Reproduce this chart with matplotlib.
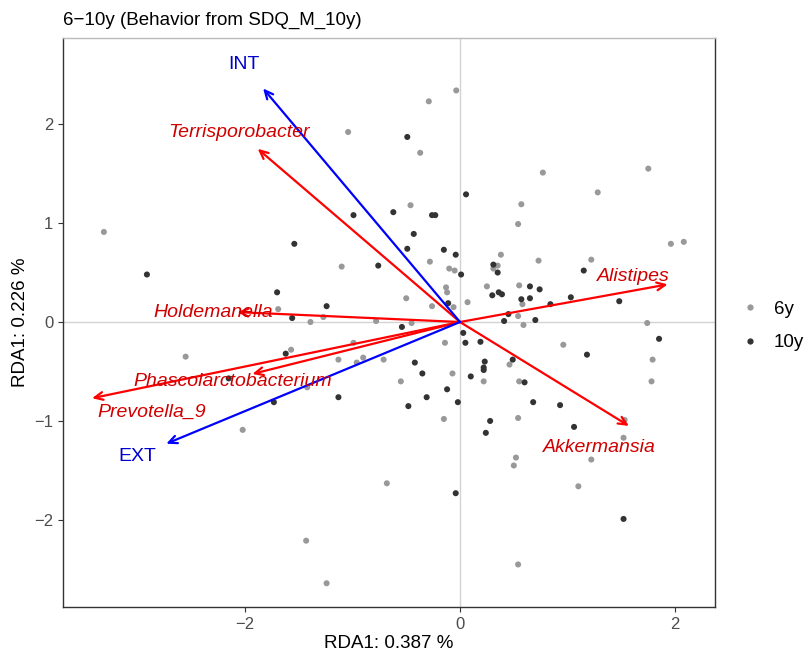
import matplotlib
matplotlib.use("Agg")
import matplotlib.pyplot as plt
from matplotlib.lines import Line2D

plt.rcParams['font.family'] = ['Liberation Sans', 'DejaVu Sans']

# ---- data ----
g6_x = [-0.035, -0.29, -1.04, -0.37, 1.75, 0.77, 1.28, -0.46, 0.57, 0.54, -3.31, 1.96, 2.08, 0.38,
        -1.10, -0.28, -0.10, -0.05, 0.35, 0.31, 0.73, 1.22, -1.69, -1.39, -1.27, -0.78, -0.50, -0.13,
        -0.12, -0.06, -0.26, 0.07, 0.25, 0.55, 0.58, 0.54, 0.59, 1.74, 0.96, 1.79, 1.78, -2.55, -1.57,
        -1.13, -0.90, -0.96, -0.71, -0.99, -0.45, -0.14, 0.22, -0.07, 0.46, 0.55, -0.55, -1.42, -2.02,
        -0.15, -0.68, -1.43, -1.24, 0.54, 1.53, 1.52, 1.22, 0.52, 0.50, 1.10, 0.54]
g6_y = [2.34, 2.23, 1.92, 1.71, 1.55, 1.51, 1.31, 1.18, 1.19, 0.99, 0.91, 0.79, 0.81, 0.68,
        0.56, 0.61, 0.54, 0.52, 0.57, 0.54, 0.62, 0.63, 0.13, 0.00, 0.05, 0.01, 0.24, 0.35,
        0.30, 0.15, 0.16, 0.20, 0.36, 0.37, 0.18, 0.06, -0.03, -0.01, -0.23, -0.38, -0.60, -0.35, -0.28,
        -0.38, -0.36, -0.41, -0.38, -0.21, -0.01, -0.21, -0.60, -0.52, -0.43, -0.60, -0.60, -0.66, -1.09,
        -0.98, -1.63, -2.21, -2.64, -0.97, -0.99, -1.17, -1.39, -1.37, -1.45, -1.66, -2.45]

g10_x = [-0.49, 0.056, -0.62, -0.99, -0.26, -0.23, -0.43, -1.54, -0.49, -0.15, -0.04, -2.91, -0.76,
         0.01, 0.31, 0.35, 1.15, 1.48, -1.70, -1.24, -1.56, -0.11, 0.30, 0.36, 0.39, 0.65, 0.74, 0.57,
         0.65, 0.84, 1.03, 0.45, 0.41, 0.70, 1.85, 1.18, -1.62, -0.54, 0.03, 0.05, 0.19, 0.23, 0.22,
         0.22, 0.10, 0.49, 0.60, -0.42, -0.35, -0.12, -0.31, -0.48, -0.02, -1.13, -1.73, -2.15, -0.04,
         0.28, 0.24, 0.68, 0.93, 1.06, 1.52]
g10_y = [1.87, 1.29, 1.11, 1.08, 1.08, 1.08, 0.89, 0.79, 0.74, 0.73, 0.68, 0.48, 0.57,
         0.48, 0.58, 0.50, 0.52, 0.21, 0.30, 0.16, 0.04, 0.19, 0.27, 0.30, 0.28, 0.36, 0.33, 0.23,
         0.24, 0.18, 0.25, 0.08, 0.01, 0.02, -0.17, -0.33, -0.32, -0.05, -0.11, -0.21, -0.20, -0.40, -0.46,
         -0.485, -0.55, -0.38, -0.61, -0.41, -0.52, -0.68, -0.76, -0.85, -0.81, -0.76, -0.81, -0.57, -1.73,
         -1.00, -1.12, -0.81, -0.84, -1.06, -1.99]

taxa = ["Terrisporobacter", "Holdemanella", "Phascolarctobacterium", "Prevotella_9", "Alistipes", "Akkermansia"]
taxa_x = [-1.88, -2.07, -1.93, -3.42, 1.93, 1.57]
taxa_y = [1.75, 0.10, -0.525, -0.77, 0.38, -1.05]
taxa_lx = [-2.05, -2.29, -2.11, -2.87, 1.61, 1.30]
taxa_ly = [1.92, 0.10, -0.60, -0.91, 0.46, -1.27]

behav = ["INT", "EXT"]
behav_x = [-1.83, -2.73]
behav_y = [2.36, -1.23]
behav_lx = [-2.01, -3.00]
behav_ly = [2.60, -1.36]

fig = plt.figure(figsize=(8.12, 6.51), dpi=100)
ax = fig.add_axes([63/812, 1-607/651, (715-63)/812, (607-38)/651])

ax.axhline(0, color="#D3D3D3", lw=1.0, zorder=0)
ax.axvline(0, color="#D3D3D3", lw=1.0, zorder=0)

ax.scatter(g6_x, g6_y, s=19, color="#999999", edgecolors="none", zorder=2)
ax.scatter(g10_x, g10_y, s=19, color="#333333", edgecolors="none", zorder=2)

for name, x, y, lx, ly in zip(taxa, taxa_x, taxa_y, taxa_lx, taxa_ly):
    ax.annotate("", xy=(x, y), xytext=(0, 0),
                arrowprops=dict(arrowstyle="->,head_length=0.6,head_width=0.28",
                                color="#FF0000", lw=1.6, shrinkA=0, shrinkB=0), zorder=3)
    ax.text(lx, ly, name, color="#D00000", fontsize=14, style="italic",
            ha="center", va="center", zorder=4)

for name, x, y, lx, ly in zip(behav, behav_x, behav_y, behav_lx, behav_ly):
    ax.annotate("", xy=(x, y), xytext=(0, 0),
                arrowprops=dict(arrowstyle="->,head_length=0.6,head_width=0.28",
                                color="#0000FF", lw=1.6, shrinkA=0, shrinkB=0), zorder=3)
    ax.text(lx, ly, name, color="#0000D0", fontsize=14,
            ha="center", va="center", zorder=4)

ax.set_xlim(-3.69, 2.37)
ax.set_ylim(-2.88, 2.87)
ax.set_xticks([-2, 0, 2])
ax.set_yticks([-2, -1, 0, 1, 2])
ax.tick_params(axis="both", colors="#333333", labelcolor="#4D4D4D", labelsize=12, length=3.5, width=0.8)
for s in ["left", "bottom", "right"]:
    ax.spines[s].set_color("#333333")
    ax.spines[s].set_linewidth(1.0)
ax.spines["top"].set_color("#BBBBBB")
ax.spines["top"].set_linewidth(1.0)

ax.set_xlabel("RDA1: 0.387 %", fontsize=13.5, labelpad=2)
ax.set_ylabel("RDA1: 0.226 %", fontsize=13.5, labelpad=4)
fig.text(63/812, 1-20/651, "6\u221210y (Behavior from SDQ_M_10y)", fontsize=13.5,
         ha="left", va="center")

handles = [Line2D([], [], marker="o", ls="", color="#999999", markersize=4.5, markeredgewidth=0),
           Line2D([], [], marker="o", ls="", color="#333333", markersize=4.5, markeredgewidth=0)]
fig.legend(handles, ["6y", "10y"], loc="center left", bbox_to_anchor=(731/812, 1-326/651),
           frameon=False, fontsize=13.5, handletextpad=0.5, labelspacing=0.85, handlelength=1.6,
           borderaxespad=0, borderpad=0.2)

fig.savefig("out.png", dpi=100)
